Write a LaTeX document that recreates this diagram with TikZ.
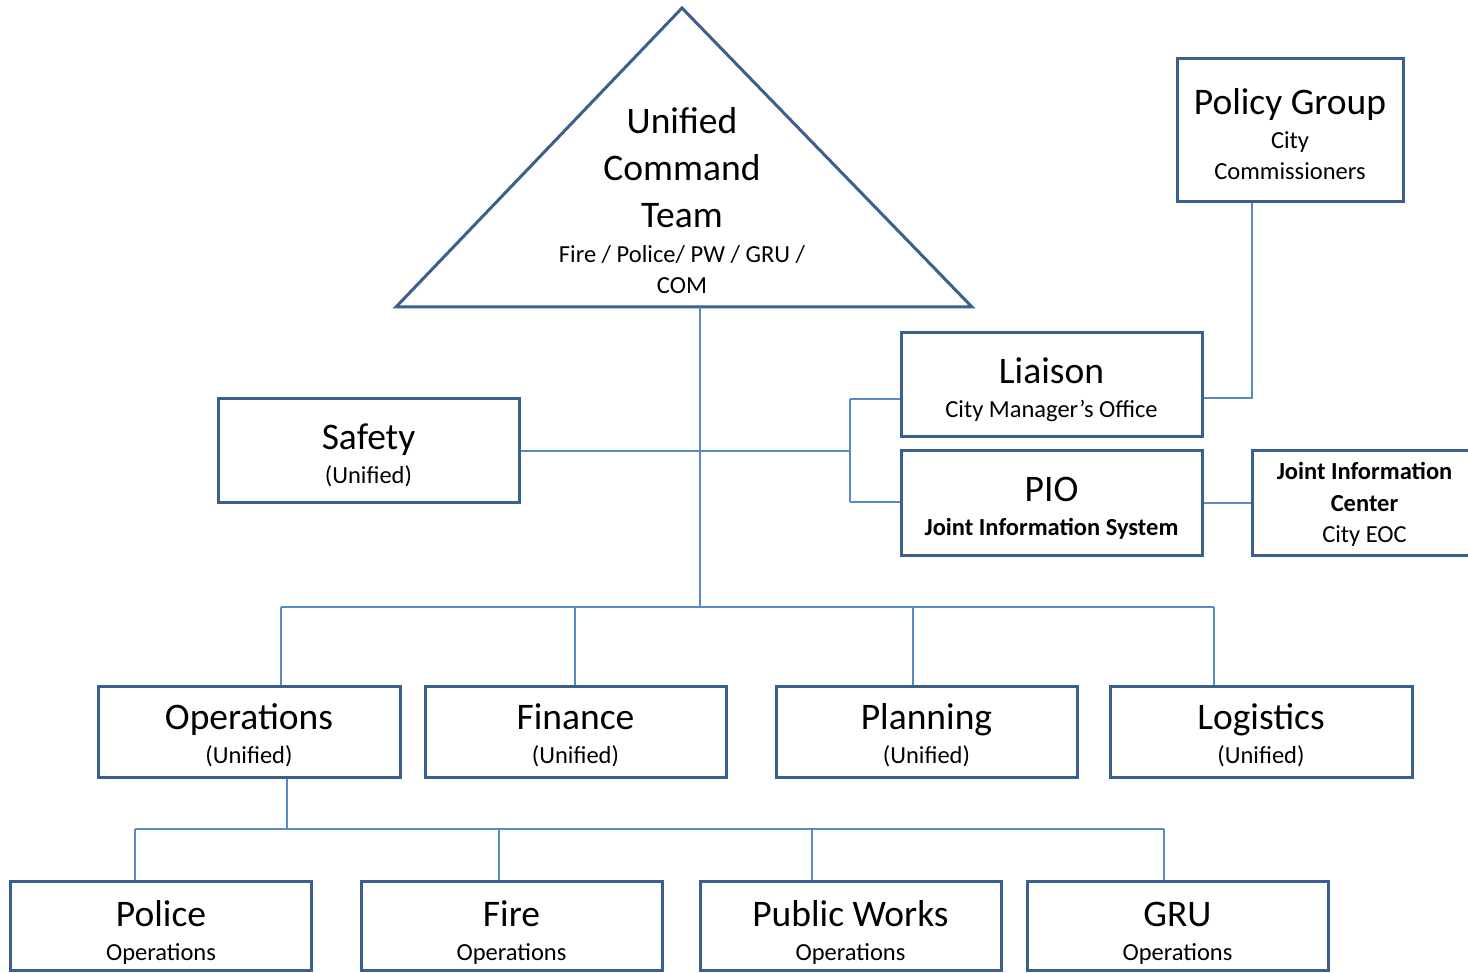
\documentclass[tikz,border=0pt]{standalone}
\usepackage{fontspec}
\setmainfont{Carlito}
\definecolor{boxc}{HTML}{3B6090}
\definecolor{linec}{HTML}{5A8AC6}
\newcommand\ttl[2][37pt]{{\fontsize{37.5}{38}\selectfont\rule{0pt}{#1}#2}}
\newcommand\ttt[1]{{\fontsize{37.5}{38}\selectfont #1}}
\tikzset{
  box/.style={draw=boxc, line width=3pt, fill=white, rectangle, inner sep=0pt,
    align=center, font=\fontsize{24.5}{34}\selectfont},
  conn/.style={draw=linec, line width=1.8pt},
}
\begin{document}
\begin{tikzpicture}[x=1pt,y=-1pt]
\useasboundingbox (0,0) rectangle (1468,973);
\coordinate (apex) at (682,8);
\coordinate (bl) at (396,307);
\coordinate (br) at (972,307);
\coordinate (tbase) at (700,307);
\coordinate (mid) at (700,607);
\coordinate (lj) at (850,451);
\coordinate (ljt) at (850,399);
\coordinate (ljb) at (850,502);
\coordinate (pgc) at (1252,398);
\coordinate (r2l) at (281,607);
\coordinate (r2r) at (1214,607);
\coordinate (opd) at (287,829);
\coordinate (r3l) at (135,829);
\coordinate (r3r) at (1164,829);

% boxes
\node[box, minimum width=226pt, minimum height=143pt, font=\fontsize{24.5}{31}\selectfont] (policy) at (1290,130.5)
  {\ttl[34pt]{Policy Group}\\[3pt]City\\Commissioners};
\node[box, minimum width=301pt, minimum height=104pt] (liaison) at (1051.5,385)
  {\ttl[36pt]{Liaison}\\City Manager’s Office};
\node[box, minimum width=301pt, minimum height=104pt] (pio) at (1051.5,503)
  {\ttl[34pt]{PIO}\\\textbf{Joint Information System}};
\node[box, minimum width=225pt, minimum height=104pt, font=\fontsize{24.5}{31.5}\selectfont] (jic) at (1364.5,503)
  {\rule{0pt}{20pt}\textbf{Joint Information}\\\textbf{Center}\\City EOC};
\node[box, minimum width=301pt, minimum height=104pt] (safety) at (368.5,451)
  {\ttl[35pt]{Safety}\\(Unified)};

\node[box, minimum width=302pt, minimum height=91pt] (ops) at (249,731.5)
  {\ttl[34pt]{Operations}\\(Unified)};
\node[box, minimum width=301pt, minimum height=91pt] (fin) at (575.5,731.5)
  {\ttl[34pt]{Finance}\\(Unified)};
\node[box, minimum width=301pt, minimum height=91pt] (plan) at (926.5,731.5)
  {\ttl[34pt]{Planning}\\(Unified)};
\node[box, minimum width=302pt, minimum height=91pt] (log) at (1261,731.5)
  {\ttl[34pt]{Logistics}\\(Unified)};

\node[box, minimum width=301pt, minimum height=89pt] (police) at (161,925.5)
  {\ttl[40pt]{Police}\\Operations};
\node[box, minimum width=301pt, minimum height=89pt] (fire) at (511.5,925.5)
  {\ttl[40pt]{Fire}\\Operations};
\node[box, minimum width=301pt, minimum height=89pt] (pw) at (850.5,925.5)
  {\ttl[40pt]{Public Works}\\Operations};
\node[box, minimum width=301pt, minimum height=89pt] (gru) at (1177.5,925.5)
  {\ttl[40pt]{GRU}\\Operations};

% triangle
\draw[draw=boxc, line width=3pt, line join=miter] (apex) -- (br) -- (bl) -- cycle;
\node[align=center, inner sep=0pt, font=\fontsize{24.5}{47}\selectfont] (uct) at (682,201)
  {\ttt{Unified}\\\ttt{Command}\\\ttt{Team}\\[-12pt]Fire / Police/ PW / GRU /\\[-16pt]COM};

% connectors
\draw[conn] (tbase) -- (mid);
\draw[conn] (safety.east) -- (lj);
\draw[conn] (ljt) -- (ljb);
\draw[conn] (ljt) -- (ljt -| liaison.west);
\draw[conn] (ljb) -- (ljb -| pio.west);
\draw[conn] (policy.south -| pgc) -- (pgc) -- (pgc -| liaison.east);
\draw[conn] (pio.east) -- (jic.west);
\draw[conn] (r2l) -- (r2r);
\draw[conn] (r2l) -- (r2l |- ops.north);
\draw[conn] (575,607) coordinate (f2) -- (f2 |- fin.north);
\draw[conn] (913,607) coordinate (p2) -- (p2 |- plan.north);
\draw[conn] (r2r) -- (r2r |- log.north);
\draw[conn] (ops.south -| opd) -- (opd);
\draw[conn] (r3l) -- (r3r);
\draw[conn] (r3l) -- (r3l |- police.north);
\draw[conn] (499,829) coordinate (f3) -- (f3 |- fire.north);
\draw[conn] (812,829) coordinate (w3) -- (w3 |- pw.north);
\draw[conn] (r3r) -- (r3r |- gru.north);
\end{tikzpicture}
\end{document}
